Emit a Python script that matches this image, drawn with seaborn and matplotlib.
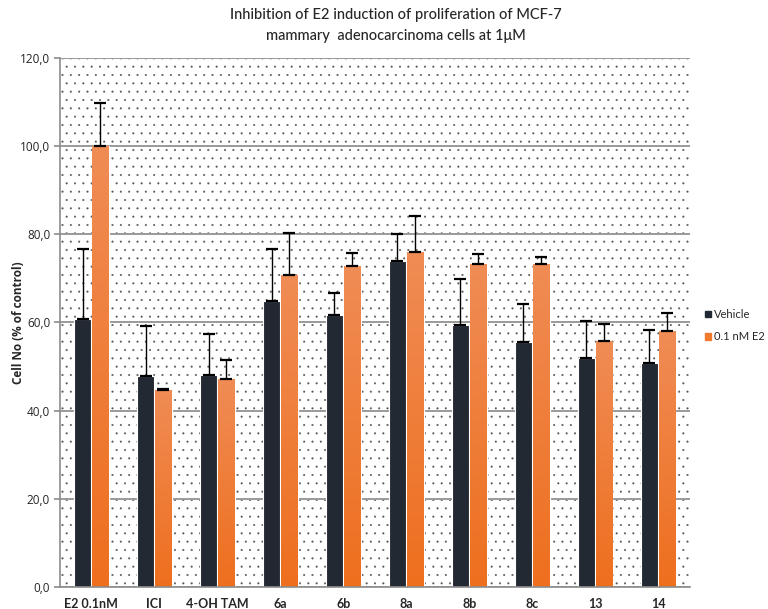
import numpy as np
import pandas as pd
import matplotlib
matplotlib.use('Agg')
import matplotlib.pyplot as plt
from matplotlib.colors import LinearSegmentedColormap
from matplotlib.ticker import FuncFormatter, MultipleLocator, FixedLocator
import seaborn as sns

sns.set_style('white')
plt.rcParams.update({
    'font.family': ['Lato', 'DejaVu Sans'],
    'hatch.linewidth': 0.25,
})

# values (Cell No, % of control)
categories = ['E2 0.1nM', 'ICI', '4-OH TAM', '6a', '6b', '8a', '8b', '8c', '13', '14']
series = ['Vehicle', '0.1 nM E2']
vehicle = [60.8, 47.9, 48.2, 64.9, 61.6, 73.9, 59.4, 55.5, 51.9, 50.8]
vehicle_err = [15.8, 11.4, 9.2, 11.7, 5.0, 6.1, 10.5, 8.8, 8.5, 7.5]
e2 = [100.0, 44.7, 47.2, 70.8, 72.7, 75.9, 73.3, 73.3, 55.7, 58.0]
e2_err = [9.7, 0.2, 4.3, 9.4, 3.0, 8.2, 2.3, 1.5, 3.9, 4.1]

df = pd.DataFrame({
    'compound': categories * 2,
    'group': [series[0]] * len(categories) + [series[1]] * len(categories),
    'value': vehicle + e2,
})

fig = plt.figure(figsize=(7.68, 6.09), dpi=100)
ax = fig.add_axes([0.078, 0.036, 0.82, 0.869])

# dotted background like the excel pattern fill (hatch colour follows edgecolor)
ax.patch.set_facecolor('white')
ax.patch.set_edgecolor('#555555')
ax.patch.set_linewidth(0)
ax.patch.set_hatch('..')

sns.barplot(data=df, x='compound', y='value', hue='group', order=categories,
            hue_order=series, palette=['#212934', '#F07A2E'], width=0.56, gap=0.04,
            errorbar=None, edgecolor='white', linewidth=0.8, ax=ax, legend=False)

# orange bars get a soft vertical gradient
grad_cmap = LinearSegmentedColormap.from_list('org', ['#F08C55', '#EE6F1E'])
grad = np.linspace(0, 1, 256).reshape(-1, 1)
for bar in ax.containers[1]:
    x0, w, h = bar.get_x(), bar.get_width(), bar.get_height()
    im = ax.imshow(grad, extent=[x0, x0 + w, 0, h], aspect='auto', cmap=grad_cmap,
                   zorder=bar.get_zorder() + 0.05)
    im.set_clip_path(bar)

# upper-only error bars
for cont, errs in zip(ax.containers[:2], [vehicle_err, e2_err]):
    xs = [b.get_x() + b.get_width() / 2 for b in cont]
    hs = [b.get_height() for b in cont]
    ax.errorbar(xs, hs, yerr=[np.zeros(len(errs)), errs], fmt='none', ecolor='black',
                elinewidth=1.0, capsize=4, capthick=1.6, zorder=5)

ax.set_xlim(-0.5, len(categories) - 0.5)
ax.set_ylim(0, 120)
ax.yaxis.set_major_locator(MultipleLocator(20))
ax.yaxis.set_major_formatter(FuncFormatter(lambda v, p: f'{v:.1f}'.replace('.', ',')))
ax.grid(axis='y', color='#9a9a9a', linewidth=1.4)
ax.set_axisbelow(True)

for s in ['top', 'right']:
    ax.spines[s].set_visible(False)
for s in ['left', 'bottom']:
    ax.spines[s].set_color('#8c8c8c')
    ax.spines[s].set_linewidth(1.2)

ax.tick_params(axis='x', which='major', length=0, pad=8)
ax.xaxis.set_minor_locator(FixedLocator(np.arange(-0.5, len(categories), 1)))
ax.tick_params(axis='x', which='minor', length=5, color='#8c8c8c', width=1.2, direction='out')
ax.tick_params(axis='y', length=4, color='#8c8c8c', width=1.2, direction='out', pad=3)
ax.tick_params(axis='y', left=True)
for lab in ax.get_xticklabels():
    lab.set_fontsize(9)
    lab.set_fontweight('bold')
for lab in ax.get_yticklabels():
    lab.set_fontsize(8.5)
    lab.set_family(['Open Sans', 'DejaVu Sans'])

ax.set_xlabel('')
ax.set_ylabel('Cell No (% of control)', fontsize=8.5, fontweight='bold',
              family=['Open Sans', 'DejaVu Sans'])
ax.yaxis.set_label_coords(-0.055, 0.5)

fig.text(0.515, 0.975, 'Inhibition of E2 induction of proliferation of MCF-7',
         ha='center', va='center', fontsize=10.5, fontweight='medium')
fig.text(0.515, 0.941, 'mammary  adenocarcinoma cells at 1\u03bcM',
         ha='center', va='center', fontsize=10.5, fontweight='medium')

handles = [plt.Rectangle((0, 0), 1, 1, color=c) for c in ['#212934', '#F07A2E']]
fig.legend(handles, series, loc='center left', bbox_to_anchor=(0.905, 0.465), frameon=False,
           fontsize=8, handlelength=0.5, handleheight=0.5, handletextpad=0.3, labelspacing=1.0)

fig.savefig('out.png', dpi=100)
